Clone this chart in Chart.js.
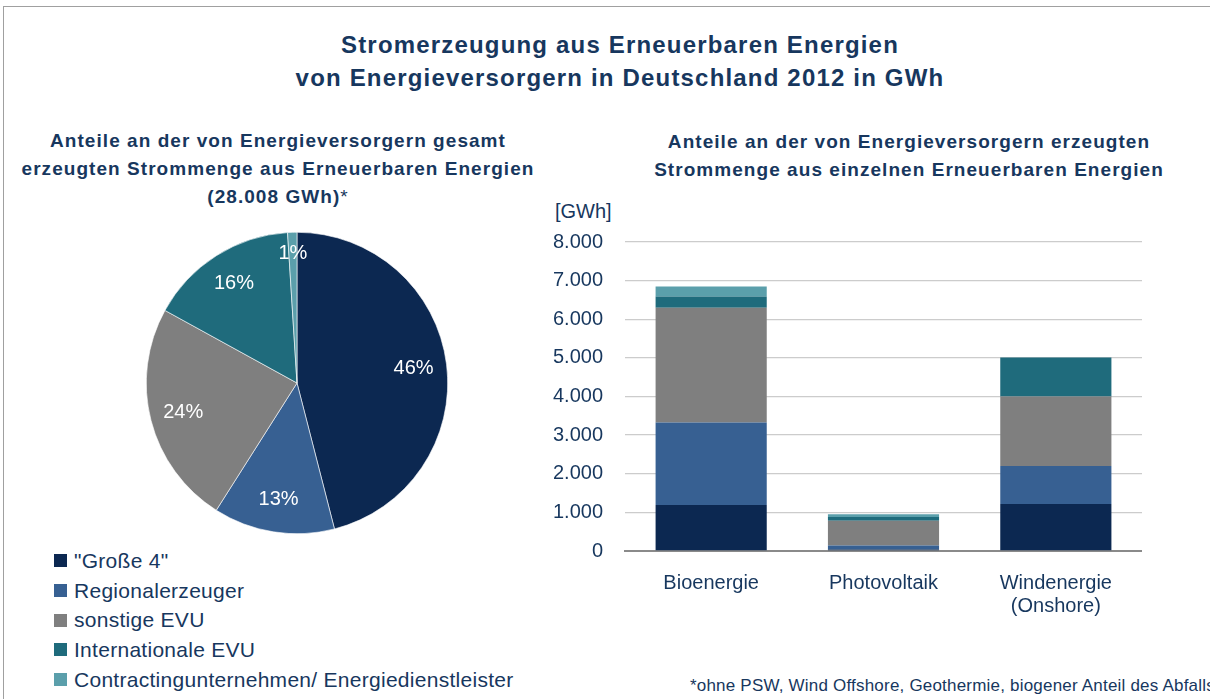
<!DOCTYPE html>
<html lang="de">
<head>
<meta charset="utf-8">
<script src="https://cdn.jsdelivr.net/npm/chart.js@4.4.1/dist/chart.umd.min.js"></script>
<style>
  html, body { margin: 0; padding: 0; background: #fff; }
  body { width: 1210px; height: 699px; position: relative; overflow: hidden;
         font-family: "Liberation Sans", Arial, sans-serif; color: #17375E; }
  .frame { position: absolute; left: 3px; top: 6px; width: 1300px; height: 800px;
           border-top: 1px solid #a0a0a0; border-left: 1px solid #a0a0a0; }
  .txt { position: absolute; white-space: nowrap; line-height: 1; }
  .center { transform: translate(-50%, -50%); text-align: center; }
  .left { transform: translateY(-50%); }
  .title { font-weight: bold; font-size: 24px; letter-spacing: 1.18px; }
  .sub { font-weight: bold; font-size: 19px; letter-spacing: 1.05px; }
  #pieBox { position: absolute; left: 146px; top: 232px; width: 302px; height: 302px; }
  #barBox { position: absolute; left: 540px; top: 208px; width: 602px; height: 423px; }
  .legend { position: absolute; left: 54px; top: 546px; }
  .legend .row { height: 29.7px; display: flex; align-items: center; font-size: 21px;
                 letter-spacing: 0.28px; white-space: nowrap; }
  .legend .sw { width: 13px; height: 13px; margin-right: 7px; flex: none; }
</style>
</head>
<body>
<div class="frame"></div>

<div class="txt center title" style="left:620px; top:45px;">Stromerzeugung aus Erneuerbaren Energien</div>
<div class="txt center title" style="left:620px; top:78px;">von Energieversorgern in Deutschland 2012 in GWh</div>

<div class="txt center sub" style="left:278px; top:140px;">Anteile an der von Energieversorgern gesamt</div>
<div class="txt center sub" style="left:278px; top:168px;">erzeugten Strommenge aus Erneuerbaren Energien</div>
<div class="txt center sub" style="left:278px; top:196px;">(28.008 GWh)<span style="font-weight:normal">*</span></div>

<div class="txt center sub" style="left:909px; top:141px;">Anteile an der von Energieversorgern erzeugten</div>
<div class="txt center sub" style="left:909px; top:169px;">Strommenge aus einzelnen Erneuerbaren Energien</div>

<div class="txt left" style="left:555px; top:211px; font-size:20px;">[GWh]</div>

<div id="pieBox"><canvas id="pie"></canvas></div>
<div id="barBox"><canvas id="bar"></canvas></div>
<div class="legend" id="legend"></div>

<div class="txt left" style="left:690px; top:685px; font-size:17px; letter-spacing:0.2px;">*ohne PSW, Wind Offshore, Geothermie, biogener Anteil des Abfalls</div>

<script>
// Erzeugergruppen (Legende, Tortenstücke, Stapelreihen)
const groups = ['"Große 4"', 'Regionalerzeuger', 'sonstige EVU', 'Internationale EVU', 'Contractingunternehmen/ Energiedienstleister'];
const groupColors = ['#0C2851', '#376092', '#7F7F7F', '#1F6B7C', '#5B9FAB'];

// Anteile an der Gesamterzeugung in %
const shares = [46, 13, 24, 16, 1];

// Erzeugung je Energieträger in GWh
const sources = ['Bioenergie', 'Photovoltaik', ['Windenergie', '(Onshore)']];
const grosse4 = [1190, 40, 1220];
const regional = [2140, 100, 980];
const sonstige = [2970, 640, 1800];
const international = [290, 100, 1010];
const contracting = [260, 70, 0];

const yTicks = [0, 1000, 2000, 3000, 4000, 5000, 6000, 7000, 8000];

Chart.defaults.font.family = '"Liberation Sans", Arial, sans-serif';
Chart.defaults.color = '#17375E';
Chart.defaults.animation = false;

function fmt(v) {
  return String(v).replace(/\B(?=(\d{3})+(?!\d))/g, '.');
}

// legend
const legendEl = document.getElementById('legend');
groups.forEach((g, i) => {
  const row = document.createElement('div');
  row.className = 'row';
  row.innerHTML = '<span class="sw" style="background:' + groupColors[i] + '"></span>' + g;
  legendEl.appendChild(row);
});

// percent labels inside the slices
const sliceLabels = {
  id: 'sliceLabels',
  afterDatasetsDraw(chart) {
    const ctx = chart.ctx;
    const meta = chart.getDatasetMeta(0);
    ctx.save();
    ctx.fillStyle = '#fff';
    ctx.font = '20px "Liberation Sans", Arial, sans-serif';
    ctx.textAlign = 'center';
    ctx.textBaseline = 'middle';
    meta.data.forEach((arc, i) => {
      const mid = (arc.startAngle + arc.endAngle) / 2;
      const f = shares[i] < 5 ? 0.86 : 0.78;
      const r = arc.outerRadius * f;
      ctx.fillText(shares[i] + '%', arc.x + Math.cos(mid) * r, arc.y + Math.sin(mid) * r);
    });
    ctx.restore();
  }
};

new Chart(document.getElementById('pie'), {
  type: 'pie',
  data: {
    labels: groups,
    datasets: [{
      data: shares,
      backgroundColor: groupColors,
      borderColor: '#ffffff',
      borderWidth: 0.6
    }]
  },
  options: {
    responsive: true,
    maintainAspectRatio: false,
    layout: { padding: 0 },
    plugins: { legend: { display: false }, tooltip: { enabled: false } }
  },
  plugins: [sliceLabels]
});

const series = [grosse4, regional, sonstige, international, contracting];

new Chart(document.getElementById('bar'), {
  type: 'bar',
  data: {
    labels: sources,
    datasets: series.map((vals, i) => ({
      label: groups[i],
      data: vals,
      backgroundColor: groupColors[i],
      borderWidth: 0,
      categoryPercentage: 1,
      barPercentage: 0.645
    }))
  },
  options: {
    responsive: true,
    maintainAspectRatio: false,
    layout: { padding: 0 },
    plugins: { legend: { display: false }, tooltip: { enabled: false } },
    scales: {
      x: {
        stacked: true,
        grid: { display: false },
        border: { display: true, color: '#8a8a8a', width: 2 },
        ticks: { font: { size: 20, lineHeight: 1.15 }, padding: 13, maxRotation: 0 },
        afterFit(scale) { scale.height = 80; }
      },
      y: {
        stacked: true,
        min: 0,
        max: 8000,
        afterBuildTicks(scale) { scale.ticks = yTicks.map(v => ({ value: v })); },
        grid: { color: '#cccccc', lineWidth: 1.3, drawTicks: false },
        border: { display: false },
        ticks: { font: { size: 20 }, padding: 22, callback: v => fmt(v) },
        afterFit(scale) { scale.width = 85; }
      }
    }
  }
});
</script>
</body>
</html>
